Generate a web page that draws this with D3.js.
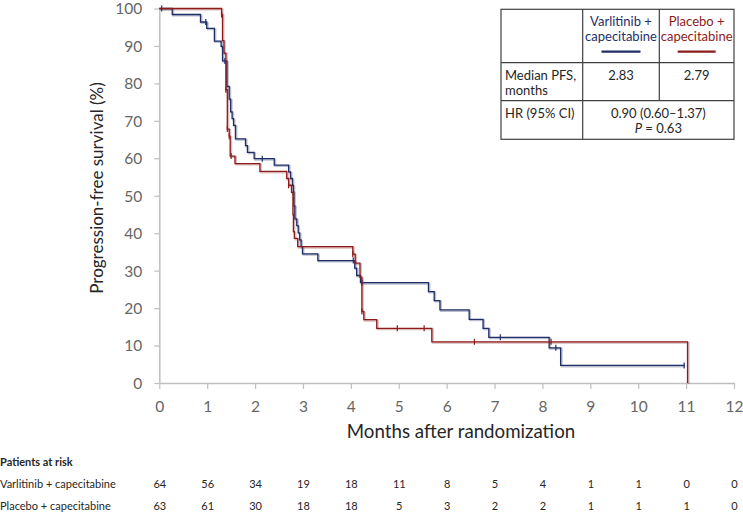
<!DOCTYPE html>
<html>
<head>
<meta charset="utf-8">
<script src="https://cdn.jsdelivr.net/npm/d3@7"></script>
<style>
  body { margin: 0; background: #fff; }
  svg text { font-family: Lato, "Open Sans", sans-serif; }
</style>
</head>
<body>
<svg id="chart" width="743" height="513"></svg>
<script>
// step data: time of drop (months) and survival after the drop (%)
var varTimes = [0.27, 0.86, 0.99, 1.15, 1.29, 1.32, 1.41, 1.46, 1.49, 1.52, 1.55, 1.59, 1.80, 1.84, 1.98, 2.40, 2.70, 2.74, 2.78, 2.80, 2.81, 2.83, 2.87, 2.90, 2.93, 2.96, 2.99, 3.31, 4.08, 4.12, 4.20, 5.62, 5.74, 5.86, 6.47, 6.76, 6.88, 8.14, 8.38];
var varSurv  = [98.4, 96.4, 94.7, 91.3, 89.9, 86.0, 79.2, 75.8, 72.4, 70.6, 68.8, 65.2, 63.4, 61.6, 59.9, 58.2, 56.4, 54.6, 52.8, 51.0, 47.3, 43.8, 42.0, 40.1, 38.2, 36.4, 34.5, 32.7, 30.7, 28.7, 26.8, 24.4, 22.0, 19.5, 17.0, 14.6, 12.2, 9.4, 4.7];
var varCensor = [0.05, 0.97, 1.37, 2.15, 4.05, 4.23, 7.12, 8.28, 10.96];
var varEnd = 10.96;

var plaTimes = [1.30, 1.32, 1.35, 1.39, 1.42, 1.46, 1.48, 1.58, 2.10, 2.66, 2.70, 2.76, 2.79, 2.80, 2.82, 2.89, 4.04, 4.09, 4.19, 4.23, 4.27, 4.54, 5.69, 11.03];
var plaSurv  = [98.4, 91.4, 88.1, 78.3, 67.8, 65.9, 60.6, 58.6, 56.5, 54.6, 52.8, 50.9, 45.0, 40.4, 38.6, 36.4, 34.4, 32.0, 28.2, 19.1, 16.9, 14.6, 11.0, 0];
var plaCensor = [1.30, 1.39, 1.42, 1.46, 1.50, 2.70, 4.04, 4.23, 4.97, 5.53, 6.58, 8.18];
var plaEnd = 11.03;

var xTicks = [0, 1, 2, 3, 4, 5, 6, 7, 8, 9, 10, 11, 12];
var yTicks = [0, 10, 20, 30, 40, 50, 60, 70, 80, 90, 100];

var riskLabels = ["Varlitinib + capecitabine", "Placebo + capecitabine"];
var riskVar = [64, 56, 34, 19, 18, 11, 8, 5, 4, 1, 1, 0, 0];
var riskPla = [63, 61, 30, 18, 18, 5, 3, 2, 2, 1, 1, 1, 0];

var blue = "#1f2f66";
var red = "#8c1c1c";
var axisGrey = "#bfbfbf";
var labelGrey = "#666666";

var svg = d3.select("#chart");
var x = d3.scaleLinear().domain([0, 12]).range([159.3, 734]);
var y = d3.scaleLinear().domain([0, 100]).range([383, 8.5]);

// axes
var yAxis = d3.axisLeft(y).tickValues(yTicks).tickSize(5).tickPadding(12).tickSizeOuter(0);
var gy = svg.append("g").attr("transform", "translate(" + x(0) + ",0)").call(yAxis);
var xAxis = d3.axisBottom(x).tickValues(xTicks).tickSize(6).tickPadding(12).tickSizeOuter(0);
var gx = svg.append("g").attr("transform", "translate(0," + y(0) + ")").call(xAxis);
[gx, gy].forEach(function (g) {
    g.select(".domain").attr("stroke", axisGrey).attr("stroke-width", 1.5);
    g.selectAll(".tick line").attr("stroke", axisGrey).attr("stroke-width", 1.2);
    g.selectAll(".tick text").attr("fill", labelGrey).style("font-size", "15.5px").style("font-family", "Lato, sans-serif");
});
gy.selectAll(".tick text").attr("dy", "0.35em");

svg.append("text")
    .attr("transform", "translate(103,188) rotate(-90)")
    .attr("text-anchor", "middle")
    .attr("fill", "#262626")
    .style("font-size", "17px")
    .text("Progression-free survival (%)");

svg.append("text")
    .attr("x", 461).attr("y", 438)
    .attr("text-anchor", "middle")
    .attr("fill", "#262626")
    .style("font-size", "18.7px")
    .text("Months after randomization");

// KM curves
function stepPoints(times, surv, end) {
    var pts = [[0, 100]];
    times.forEach(function (t, i) { pts.push([t, surv[i]]); });
    var last = pts[pts.length - 1];
    if (end > last[0]) pts.push([end, last[1]]);
    return pts;
}
function valueAt(times, surv, t) {
    var v = 100;
    times.forEach(function (tt, i) { if (tt <= t) v = surv[i]; });
    return v;
}
var line = d3.line().x(d => x(d[0])).y(d => y(d[1])).curve(d3.curveStepAfter);

var series = [
    { times: varTimes, surv: varSurv, censor: varCensor, end: varEnd, color: blue },
    { times: plaTimes, surv: plaSurv, censor: plaCensor, end: plaEnd, color: red }
];
series.forEach(function (s) {
    var pts = stepPoints(s.times, s.surv, s.end);
    svg.append("path").datum(pts)
        .attr("d", line)
        .attr("transform", "translate(1,1)")
        .attr("fill", "none").attr("stroke", s.color)
        .attr("stroke-opacity", 0.3).attr("stroke-width", 2);
    svg.append("path").datum(pts)
        .attr("d", line)
        .attr("fill", "none").attr("stroke", s.color)
        .attr("stroke-width", 1.3);
    svg.append("g").selectAll("line")
        .data(s.censor).enter().append("line")
        .attr("x1", d => x(d)).attr("x2", d => x(d))
        .attr("y1", d => y(valueAt(s.times, s.surv, d)) - 3)
        .attr("y2", d => y(valueAt(s.times, s.surv, d)) + 3)
        .attr("stroke", s.color).attr("stroke-width", 1.2);
});

// summary table
var tb = svg.append("g");
var tx = [501, 582.7, 659.3, 734];
var ty = [9.3, 62.7, 100.7, 139.3];
tb.append("rect").attr("x", tx[0]).attr("y", ty[0])
    .attr("width", tx[3] - tx[0]).attr("height", ty[3] - ty[0])
    .attr("fill", "#fff").attr("stroke", "#404040").attr("stroke-width", 1.2);
[ty[1], ty[2]].forEach(function (yy) {
    tb.append("line").attr("x1", tx[0]).attr("x2", tx[3]).attr("y1", yy).attr("y2", yy)
        .attr("stroke", "#404040").attr("stroke-width", 1.2);
});
tb.append("line").attr("x1", tx[1]).attr("x2", tx[1]).attr("y1", ty[0]).attr("y2", ty[3])
    .attr("stroke", "#404040").attr("stroke-width", 1.2);
tb.append("line").attr("x1", tx[2]).attr("x2", tx[2]).attr("y1", ty[0]).attr("y2", ty[2])
    .attr("stroke", "#404040").attr("stroke-width", 1.2);

function cell(txt, cx, cy, anchor, color) {
    return tb.append("text").attr("x", cx).attr("y", cy).attr("dy", "0.35em")
        .attr("text-anchor", anchor || "middle")
        .attr("fill", color || "#262626")
        .style("font-size", "13px").text(txt);
}
var c1 = (tx[1] + tx[2]) / 2, c2 = (tx[2] + tx[3]) / 2;
cell("Varlitinib +", c1, 21.7, "middle", blue);
cell("capecitabine", c1, 36.7, "middle", blue);
cell("Placebo +", c2, 21.7, "middle", red);
cell("capecitabine", c2, 36.7, "middle", red);
tb.append("line").attr("x1", c1 - 19.5).attr("x2", c1 + 19.5).attr("y1", 51.7).attr("y2", 51.7)
    .attr("stroke", blue).attr("stroke-width", 2.2);
tb.append("line").attr("x1", c2 - 19).attr("x2", c2 + 19).attr("y1", 51.7).attr("y2", 51.7)
    .attr("stroke", red).attr("stroke-width", 2.2);
cell("Median PFS,", 505, 75, "start");
cell("months", 505, 90, "start");
cell("2.83", c1, 75);
cell("2.79", c2, 75);
cell("HR (95% CI)", 505, 113.7, "start");
cell("0.90 (0.60\u20131.37)", (tx[1] + tx[3]) / 2, 113.7);
var pt = cell("", (tx[1] + tx[3]) / 2, 128.3);
pt.append("tspan").style("font-style", "italic").text("P");
pt.append("tspan").text(" = 0.63");

// patients at risk
svg.append("text").attr("x", 0).attr("y", 462).attr("dy", "0.35em")
    .attr("fill", "#262626").style("font-size", "11px").style("font-weight", "bold")
    .text("Patients at risk");
[riskVar, riskPla].forEach(function (row, i) {
    var yy = 484 + i * 22;
    svg.append("text").attr("x", 0).attr("y", yy).attr("dy", "0.35em")
        .attr("fill", "#262626").style("font-size", "11px").text(riskLabels[i]);
    svg.append("g").selectAll("text").data(row).enter().append("text")
        .attr("x", (d, j) => x(xTicks[j]) + 0.5).attr("y", yy).attr("dy", "0.35em")
        .attr("text-anchor", "middle").attr("fill", "#262626")
        .style("font-size", "11px").text(d => d);
});
</script>
</body>
</html>
